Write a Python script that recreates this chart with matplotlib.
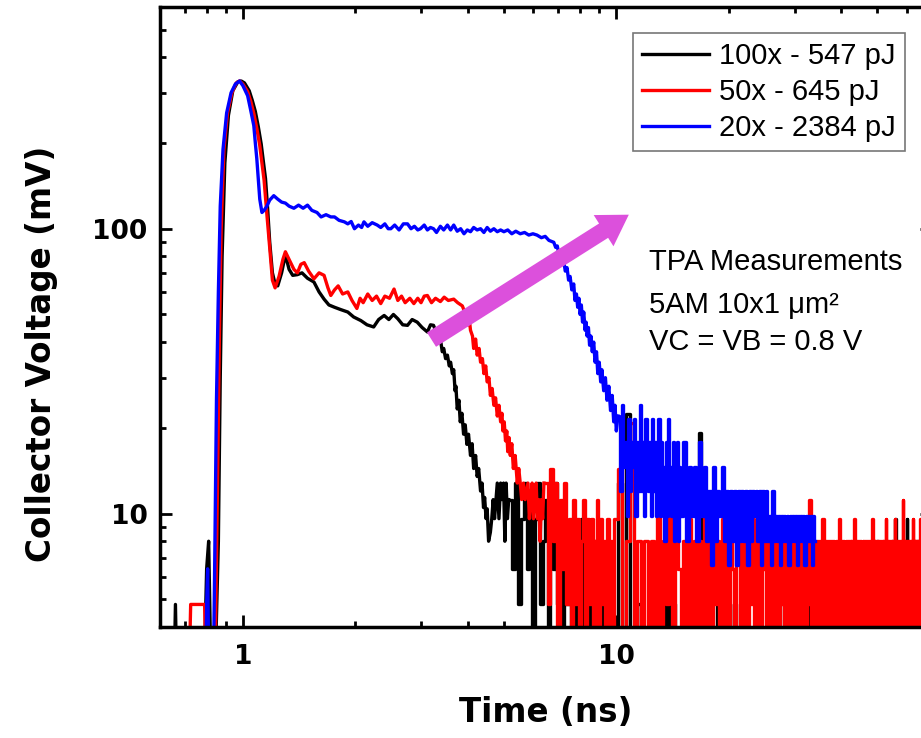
import matplotlib
matplotlib.use("Agg")
import matplotlib.pyplot as plt
import matplotlib.ticker as ticker
import numpy as np

# ---- data (time in ns, voltage in mV) ----
labels = ["100x - 547 pJ", "50x - 645 pJ", "20x - 2384 pJ"]
colors = ["#000000", "#ff0000", "#0000ff"]

# early part of each trace (pulse + plateau + decay)
t_black = [0.60, 0.65, 0.66, 0.67, 0.78, 0.80, 0.81, 0.82, 0.845, 0.86, 0.87, 0.88, 0.895,
           0.915, 0.94, 0.97, 0.99, 1.01, 1.04, 1.06, 1.08, 1.10, 1.12, 1.135, 1.15, 1.165,
           1.18, 1.20, 1.22, 1.24, 1.27, 1.30, 1.33, 1.36, 1.40, 1.44, 1.49, 1.55, 1.60,
           1.65, 1.70, 1.76, 1.83, 1.91, 1.98, 2.07, 2.15, 2.24, 2.31, 2.39, 2.46, 2.53,
           2.60, 2.68, 2.76, 2.84, 2.93, 3.02, 3.12, 3.18, 3.24,
           3.30, 3.34, 3.38, 3.42, 3.45, 3.49, 3.53, 3.57, 3.60, 3.64, 3.67, 3.70, 3.72,
           3.75, 3.79, 3.82, 3.86, 3.90, 3.94, 3.98, 4.02, 4.07, 4.11, 4.15, 4.20, 4.24,
           4.28, 4.33, 4.37, 4.41, 4.44, 4.48, 4.51, 4.55, 4.60, 4.64, 4.68, 4.72, 4.80,
           4.85, 4.90, 4.94, 4.99, 5.03, 5.07, 5.11, 5.15]
v_black = [1.6, 1.6, 4.8, 1.6, 1.6, 6.4, 8.0, 3.2, 3.2, 8, 30, 80, 170,
           250, 305, 328, 330, 325, 305, 282, 258, 228, 198, 172, 150, 118,
           90, 70, 64, 63, 70, 81, 72, 68.6, 69, 70, 67, 65, 60,
           56.6, 54, 53, 52, 51, 49, 47.6, 46, 45.2, 48, 49.6, 48, 50,
           48.3, 46, 45.8, 48, 47, 45, 43.4, 46, 45.8,
           43, 40, 41, 37, 38, 35, 36, 33, 34, 31, 32, 27, 28,
           23.3, 25, 21, 22.5, 19, 20.5, 17.5, 19, 16, 17.6, 14.4, 16, 13.5,
           14.4, 12.0, 12.8, 10.5, 11.4, 9.6, 10.4, 8.0, 8.6, 9.6, 11.2, 9.6, 12.8,
           9.6, 12.8, 11.2, 12.8, 8.0, 12.8, 9.6, 11.2]

t_red = [0.60, 0.64, 0.70, 0.72, 0.725, 0.79, 0.795, 0.83, 0.845, 0.855, 0.865, 0.875,
         0.89, 0.91, 0.935, 0.96, 0.98, 1.00, 1.03, 1.05, 1.07, 1.09, 1.11, 1.125, 1.14,
         1.16, 1.18, 1.20, 1.22, 1.25, 1.28, 1.30, 1.33, 1.37, 1.40, 1.43, 1.46, 1.50,
         1.55, 1.60, 1.65, 1.69, 1.72, 1.76, 1.80, 1.85, 1.91, 1.96, 2.02, 2.06, 2.10,
         2.16, 2.22, 2.28, 2.34, 2.40, 2.47, 2.54, 2.60, 2.66, 2.72, 2.80, 2.87, 2.94,
         3.00, 3.06, 3.12, 3.20, 3.28, 3.38, 3.46, 3.55, 3.67, 3.76, 3.87,
         3.95, 4.00, 4.04, 4.07, 4.12, 4.15, 4.20, 4.24, 4.29, 4.33, 4.38, 4.42, 4.47,
         4.51, 4.56, 4.60, 4.65, 4.70, 4.75, 4.80, 4.85, 4.90, 4.94, 4.97, 5.01, 5.05,
         5.09, 5.12, 5.16, 5.20, 5.25, 5.30, 5.36, 5.43, 5.48, 5.53, 5.58, 5.64, 5.70,
         5.80, 5.85, 5.90, 5.95, 6.00, 6.05, 6.10, 6.15, 6.20, 6.25, 6.30, 6.35, 6.40]
v_red = [1.6, 3.2, 3.2, 3.2, 4.8, 4.8, 3.2, 3.2, 4.0, 12, 40, 100,
         190, 255, 300, 325, 330, 322, 303, 280, 254, 225, 196, 170, 148,
         112, 86, 66, 62, 68, 78, 83, 78, 72, 70, 75, 76, 71,
         66.7, 70, 68.6, 62, 58.3, 61, 63, 59, 60, 56, 52.5, 57, 55,
         59, 56, 58, 54.6, 58, 57, 61.4, 56, 58, 55, 57, 54.6, 57,
         55, 58, 58.3, 55, 57, 55.5, 57.5, 56, 56.6, 55, 53.6,
         50, 46, 48, 44, 42, 38, 41, 36, 38, 34, 35, 31, 33,
         29, 30, 26, 27.5, 24, 25.5, 22, 24, 21, 22.5, 19.5, 21, 18,
         19.5, 16.5, 18.5, 16, 17.6, 14.4, 16, 12.8, 14.4, 12.8, 11.2, 12.8, 11.2,
         12.8, 9.6, 11.2, 12.8, 9.6, 11.2, 12.8, 9.6, 11.2, 8.0, 11.2, 9.6, 12.8]

t_blue = [0.60, 0.79, 0.80, 0.805, 0.81, 0.835, 0.84, 0.85, 0.86, 0.87, 0.885, 0.905,
          0.93, 0.955, 0.98, 1.00, 1.03, 1.05, 1.07, 1.08, 1.09, 1.10, 1.11, 1.125,
          1.14, 1.16, 1.18, 1.21, 1.24, 1.27, 1.30, 1.33, 1.37, 1.41, 1.45, 1.49, 1.53,
          1.58, 1.62, 1.67, 1.72, 1.76, 1.81, 1.87, 1.91, 1.95, 1.99, 2.04, 2.08, 2.11,
          2.16, 2.22, 2.29, 2.34, 2.40, 2.45, 2.49, 2.55, 2.62, 2.69, 2.76, 2.82, 2.88,
          2.94, 2.99, 3.06, 3.12, 3.18, 3.24, 3.30, 3.38, 3.45, 3.53, 3.60, 3.67, 3.75,
          3.83, 3.91, 3.99, 4.07, 4.15, 4.24, 4.33, 4.42, 4.51, 4.60, 4.70, 4.80, 4.90,
          5.00, 5.12, 5.25, 5.38, 5.53, 5.68, 5.83, 5.98, 6.13, 6.30, 6.45, 6.60,
          6.80, 6.88, 6.95, 7.02, 7.08, 7.15, 7.22, 7.30, 7.38, 7.45, 7.52, 7.60, 7.69,
          7.75, 7.82, 7.88, 7.94, 8.00, 8.06, 8.12, 8.18, 8.25, 8.30, 8.35, 8.42, 8.48,
          8.55, 8.62, 8.70, 8.77, 8.85, 8.92, 9.00, 9.08, 9.15, 9.25, 9.35, 9.44, 9.55,
          9.65, 9.75, 9.84, 9.92, 10.0, 10.1]
v_blue = [1.6, 1.6, 4.8, 6.4, 3.2, 3.2, 6, 25, 60, 120, 190, 255,
          300, 322, 330, 318, 293, 260, 230, 200, 176, 150, 127, 114,
          116, 120, 126, 130.6, 127, 124, 123, 120, 118, 121, 118, 121, 116,
          114, 110, 112, 110, 110, 107, 105.7, 104, 106, 100, 103, 101, 105.7,
          102, 105, 103, 101, 104, 100, 100, 103, 99, 104, 104, 100, 102,
          99, 100, 103, 99, 101, 100, 97, 102, 99, 103, 99, 103, 98,
          100, 96, 99, 97.6, 101, 99, 100, 97, 101, 98, 100, 97.6, 99,
          97.6, 99, 96, 98, 96, 97, 95, 96, 95, 93, 94, 91,
          89.6, 86, 87, 81, 82, 76, 78, 71, 73, 66, 68, 61, 64,
          56, 59, 53, 57, 50, 54, 47, 51, 44, 47, 42, 45, 39,
          42, 37, 40, 34, 37, 31, 34, 29, 32, 27, 30, 25, 28,
          23, 26, 21, 24, 19.5, 22]

# noise region: fine part sampled every 0.1 ns, long tail every 0.25 ns
# black/red in ADC counts of 1.6 mV, blue in mV
lsb = 1.6
fine_step, tail_step = 0.1, 0.25

black_fine_t0 = 5.2
black_fine = [7, 4, 8, 3, 6, 8, 4, 7, 2, 6, 8, 3, 5, 7, 2, 6, 4, 8, 3, 5,
              2, 6, 3, 5, 1, 6, 2, 4, 3, 6, 1, 5, 2, 4, 1, 5, 2, 3, 1, 4,
              1, 3, 2, 5, 1, 3, 1, 2]
black_tail_t0 = 10.0
black_tail = [1,
              8, 2, 14, 2, 1, 3, 2, 1, 2, 3, 1, 2, 2, 1, 6, 2, 3, 1, 2, 1,
              2, 3, 1, 2, 1, 2, 12, 3, 2, 1, 5, 2, 1, 2, 3, 1, 2, 1, 2, 3,
              1, 2, 3, 2, 1, 2, 2, 3, 1, 2, 1, 2, 1, 2, 5, 3, 1, 2, 2, 1,
              2, 1, 3, 2, 1, 2, 2, 1, 3, 2, 1, 2, 2, 1, 2, 4, 2, 1, 2, 3,
              1, 5, 2, 1, 2, 3, 1, 2, 2, 1, 3, 2, 1, 2, 2, 1, 3, 2, 1, 2,
              2, 1, 3, 2, 1, 2, 2, 1, 3, 2, 1, 2, 1, 3, 2, 1, 2, 2, 1, 3,
              2, 1, 2, 3, 1, 2, 2, 1, 3, 2, 1, 2, 2, 1, 3, 2, 1, 2, 1, 2,
              3, 1, 2, 2, 1, 3, 2, 1, 2, 2, 1, 3, 2, 1, 2, 2, 1, 3, 2, 5,
              2, 1, 2, 3, 1, 2, 2, 1, 3, 2, 1, 2, 2, 1, 3, 2, 1, 2, 5, 2,
              1, 2, 3, 6, 2, 1, 2, 3, 1, 2, 2, 1, 3, 2, 1, 2, 2, 1, 2, 6,
              2, 1, 3, 2, 1, 2, 2, 1, 3, 2, 1, 2, 2, 1, 2, 5, 1, 3, 2, 1,
              2, 1, 3, 2, 1, 2, 2, 1, 3, 2, 1, 2, 2, 1, 3, 2, 1, 2, 2, 1]

red_fine_t0 = 6.5
red_fine = [8, 3, 9, 5, 8, 2, 7, 4, 8, 3, 6, 2, 7, 3, 6, 1, 5, 7, 2, 6,
            3, 6, 2, 5, 7, 1, 6, 3, 5, 2, 6, 1, 5, 2, 6]
red_tail_t0 = 10.0
red_tail = [6, 9, 2, 5, 13, 2,
            5, 2, 5, 1, 5, 2, 8, 2, 5, 3, 7, 2, 5, 4, 2, 5, 1, 6, 2, 5,
            1, 5, 2, 7, 2, 5, 1, 5, 3, 5, 2, 6, 2, 5, 1, 5, 4, 2, 5, 7,
            2, 5, 1, 5, 2, 5, 3, 6, 2, 5, 1, 5, 2, 5, 4, 1, 5, 2, 5, 2,
            6, 2, 5, 1, 5, 3, 5, 2, 5, 1, 5, 2, 5, 6, 2, 5, 1, 5, 2, 4,
            5, 2, 5, 1, 5, 3, 7, 2, 5, 1, 5, 2, 5, 2, 5, 4, 1, 6, 2, 5,
            2, 5, 1, 5, 3, 5, 2, 5, 1, 5, 2, 5, 6, 2, 5, 1, 5, 4, 2, 5,
            1, 5, 2, 5, 3, 5, 2, 5, 6, 1, 5, 2, 5, 1, 5, 4, 2, 5, 1, 5,
            2, 5, 1, 5, 4, 2, 5, 1, 6, 2, 5, 1, 5, 2, 5, 3, 5, 1, 5, 2,
            5, 1, 5, 3, 5, 6, 2, 5, 1, 5, 2, 5, 4, 1, 5, 2, 5, 6, 2, 5,
            1, 5, 2, 5, 4, 1, 5, 2, 7, 2, 5, 1, 5, 2, 5, 3, 5, 1, 5, 2,
            5, 2, 5, 6, 1, 5, 2, 5, 1, 5, 2, 5, 4, 2, 5, 6, 1, 5, 2, 5,
            1, 5, 2, 5, 3, 5, 1, 5, 2, 5, 4, 1, 5, 2, 5]

blue_fine_t0 = 10.2
blue_fine = [21.5, 12.0, 24.0, 14.6, 17.8, 9.8, 21.5, 12.0, 17.8, 14.6,
             21.5, 9.8, 17.8, 12.0, 24.0, 12.0, 17.8, 9.8, 21.5, 14.6,
             12.0, 17.8, 9.8, 21.5, 12.0, 17.8, 9.8, 14.6, 21.5, 9.8,
             17.8, 12.0, 14.6, 8.0, 17.8, 9.8, 21.5, 12.0, 14.6, 9.8,
             17.8, 8.0, 14.6, 9.8, 17.8, 8.0, 14.6, 9.8]
blue_tail_t0 = 15.0
blue_tail = [9.8,
             17.8, 8.0, 14.6, 9.8, 14.6, 8.0, 17.8, 9.8, 14.6, 8.0,
             12.0, 6.6, 14.6, 8.0, 12.0, 9.8, 14.6, 8.0, 12.0, 6.6,
             12.0, 8.0, 12.0, 6.6, 12.0, 8.0, 12.0, 8.0, 12.0, 6.6,
             12.0, 8.0, 12.0, 9.8, 12.0, 8.0, 12.0, 6.6, 12.0, 8.0,
             12.0, 8.0, 9.8, 6.6, 12.0, 8.0, 9.8, 8.0, 9.8, 6.6,
             9.8, 8.0, 9.8, 8.0, 9.8, 6.6, 9.8, 8.0, 9.8, 8.0,
             9.8, 6.6, 9.8, 8.0, 9.8, 8.0, 9.8, 6.6, 9.8, 8.0,
             9.8, 8.0, 9.8, 6.6, 9.8, 8.0]

fig = plt.figure(figsize=(9.21, 7.38), dpi=100)
ax = fig.add_axes([0.1737, 0.1504, 1.0119 - 0.1737, 0.9905 - 0.1504])

series = [
    (t_black, v_black, black_fine_t0, np.array(black_fine) * lsb,
     black_tail_t0, np.array(black_tail) * lsb),
    (t_red, v_red, red_fine_t0, np.array(red_fine) * lsb,
     red_tail_t0, np.array(red_tail) * lsb),
    (t_blue, v_blue, blue_fine_t0, np.array(blue_fine),
     blue_tail_t0, np.array(blue_tail)),
]

# draw order: blue at the back, then black, red on top
for i in [2, 0, 1]:
    th, vh, tf0, vf, tt0, vt = series[i]
    tf = tf0 + fine_step * np.arange(len(vf))
    tt = tt0 + tail_step * np.arange(len(vt))
    ax.plot(th, vh, color=colors[i], lw=2.4, label=labels[i], zorder=2 + i * 0.1)
    ax.plot(np.concatenate([[th[-1]], tf, tt]), np.concatenate([[vh[-1]], vf, vt]),
            color=colors[i], lw=2.4, drawstyle="steps-mid", zorder=2 + i * 0.1)

ax.set_xscale("log")
ax.set_yscale("log")
ax.set_xlim(0.6, 70)
ax.set_ylim(4, 600)

fmt = ticker.FuncFormatter(lambda v, p: f"{v:g}")
for axis in (ax.xaxis, ax.yaxis):
    axis.set_major_locator(ticker.LogLocator(base=10))
    axis.set_minor_locator(ticker.LogLocator(base=10, subs=np.arange(2, 10)))
    axis.set_major_formatter(fmt)
    axis.set_minor_formatter(ticker.NullFormatter())

ax.tick_params(which="both", direction="in", top=True, right=True, width=2.0)
ax.tick_params(which="major", length=8.5)
ax.tick_params(which="minor", length=4.5)
ax.tick_params(axis="x", which="major", pad=12)
ax.tick_params(axis="y", which="major", pad=9)
for lab in ax.get_xticklabels() + ax.get_yticklabels():
    lab.set_fontsize(19)
    lab.set_fontweight("bold")
for s in ax.spines.values():
    s.set_linewidth(2.5)

ax.set_xlabel("Time (ns)", fontsize=23.5, fontweight="bold")
ax.set_ylabel("Collector Voltage (mV)", fontsize=23.5, fontweight="bold")
ax.xaxis.set_label_coords(0.5, -0.112)
ax.yaxis.set_label_coords(-0.132, 0.44)

handles, labs = ax.get_legend_handles_labels()
order = [labs.index(l) for l in labels]
leg = ax.legend([handles[k] for k in order], [labs[k] for k in order],
                loc="upper right", bbox_to_anchor=(0.965, 0.958), borderaxespad=0,
                prop={"family": "Liberation Sans", "size": 21}, frameon=True,
                fancybox=False, handlelength=2.3, handletextpad=0.35,
                borderpad=0.3, labelspacing=0.28)
leg.get_frame().set_edgecolor("#555555")
leg.get_frame().set_linewidth(1.2)

# TPA note
note_lines = ["TPA Measurements", "5AM 10x1 \u03bcm\u00b2", "VC = VB = 0.8 V"]
note_y = [0.576, 0.506, 0.447]
for txt, yy in zip(note_lines, note_y):
    ax.text(0.633, yy, txt, transform=ax.transAxes, fontsize=21,
            family="Liberation Sans", va="baseline", ha="left")

# magenta trend arrow
ax.annotate("", xy=(10.8, 112), xytext=(3.2, 40.8),
            arrowprops=dict(arrowstyle="simple,head_length=2.15,head_width=2.66,tail_width=1.22",
                            mutation_scale=10, color="#dc50dc", shrinkA=0, shrinkB=0, lw=0),
            zorder=5)

fig.savefig("out.png", dpi=100)
